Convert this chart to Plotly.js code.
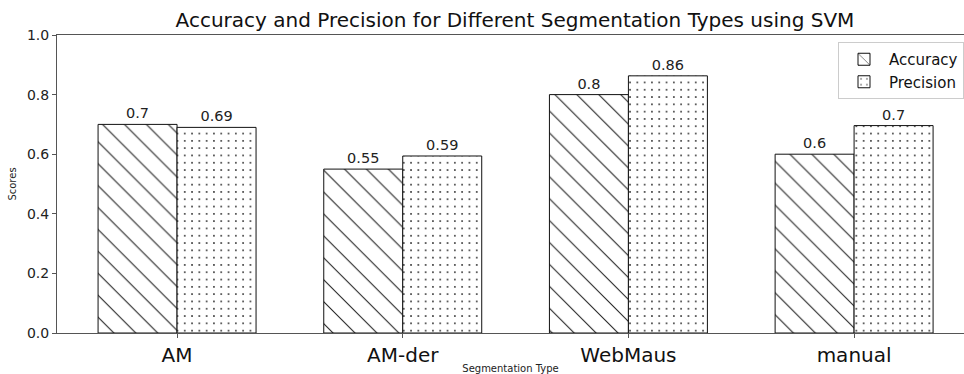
<!DOCTYPE html>
<html>
<head>
<meta charset="utf-8">
<script src="https://cdn.plot.ly/plotly-3.0.1.min.js"></script>
<style>html,body{margin:0;padding:0;background:#fff;}#chart{width:964px;height:374px;}</style>
</head>
<body>
<div id="chart"></div>
<script>
const categories = ["AM", "AM-der", "WebMaus", "manual"];
const accuracy = [0.70, 0.55, 0.80, 0.60];
const precision = [0.69, 0.594, 0.863, 0.696];
const accuracyLabels = ["0.7", "0.55", "0.8", "0.6"];
const precisionLabels = ["0.69", "0.59", "0.86", "0.7"];
const yTickVals = [0, 0.2, 0.4, 0.6, 0.8, 1.0];
const yTickText = ["0.0", "0.2", "0.4", "0.6", "0.8", "1.0"];

const font = "DejaVu Sans, sans-serif";
const lineCol = "#555";

const traces = [
  {
    type: "bar", name: "Accuracy", x: categories, y: accuracy,
    text: accuracyLabels, textposition: "outside", cliponaxis: false,
    textfont: {family: font, size: 14.5, color: "#222"},
    marker: {color: "white", line: {color: "#111", width: 1},
      pattern: {shape: "\\", size: 15.5, solidity: 0.07, fgcolor: "#222", fgopacity: 1, bgcolor: "white", fillmode: "replace"}},
    hoverinfo: "none"
  },
  {
    type: "bar", name: "Precision", x: categories, y: precision,
    text: precisionLabels, textposition: "outside", cliponaxis: false,
    textfont: {family: font, size: 14.5, color: "#222"},
    marker: {color: "white", line: {color: "#111", width: 1},
      pattern: {shape: ".", size: 7.3, solidity: 0.04, fgcolor: "#111", fgopacity: 1, bgcolor: "white", fillmode: "replace"}},
    hoverinfo: "none"
  }
];

const layout = {
  width: 964, height: 374,
  margin: {l: 57, r: 0, t: 35, b: 41, pad: 0},
  paper_bgcolor: "white", plot_bgcolor: "white",
  font: {family: font, color: "#222"},
  barmode: "group", bargap: 0.3, bargroupgap: 0,
  title: {text: "Accuracy and Precision for Different Segmentation Types using SVM",
    font: {family: font, size: 20, color: "#111"},
    xref: "container", x: 515/964, xanchor: "center",
    yref: "container", y: 1 - 20/374, yanchor: "middle"},
  xaxis: {type: "category", range: [-0.532, 3.487],
    showgrid: false, zeroline: false, showline: true, linecolor: lineCol, linewidth: 1, mirror: true,
    ticks: "outside", ticklen: 4, tickcolor: lineCol,
    tickfont: {family: font, size: 20, color: "#111"},
    title: {text: "Segmentation Type", font: {family: font, size: 10, color: "#222"}, standoff: 6}},
  yaxis: {range: [0, 1.0], tickvals: yTickVals, ticktext: yTickText,
    showgrid: false, zeroline: false, showline: true, linecolor: lineCol, linewidth: 1,
    ticks: "outside", ticklen: 4, tickcolor: lineCol,
    tickfont: {family: font, size: 14, color: "#222"},
    title: {text: "Scores", font: {family: font, size: 10, color: "#222"}, standoff: 8}},
  showlegend: true,
  legend: {x: (838-57)/907, xanchor: "left", y: (333-42)/298, yanchor: "top",
    bgcolor: "white", bordercolor: "#ccc", borderwidth: 1, itemwidth: 40,
    font: {family: font, size: 15, color: "#111"}, traceorder: "normal"}
};

Plotly.newPlot("chart", traces, layout, {displayModeBar: false, staticPlot: true});
</script>
</body>
</html>
